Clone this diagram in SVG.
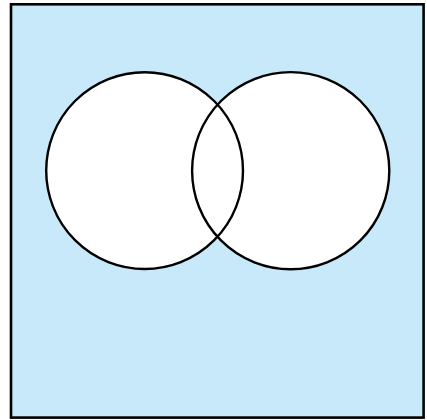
<svg xmlns="http://www.w3.org/2000/svg" width="427" height="420" viewBox="0 0 427 420">
<style>
.fill{fill:#ffffff;stroke:none}
.set{fill:none;stroke:#000000;stroke-width:2.4}
</style>
<rect width="427" height="420" fill="#ffffff"/>
<g id="universe">
<rect x="11" y="4.3" width="412.6" height="413.3" fill="#c7e9f9" stroke="#000000" stroke-width="2.6"/>
</g>
<g id="fills">
<circle class="fill" cx="144.6" cy="170.6" r="98.4"/>
<circle class="fill" cx="290.7" cy="170.7" r="98.6"/>
</g>
<g id="setA">
<circle class="set" cx="144.6" cy="170.6" r="98.4"/>
</g>
<g id="setB">
<circle class="set" cx="290.7" cy="170.7" r="98.6"/>
</g>
<g id="connectors"></g>
</svg>
